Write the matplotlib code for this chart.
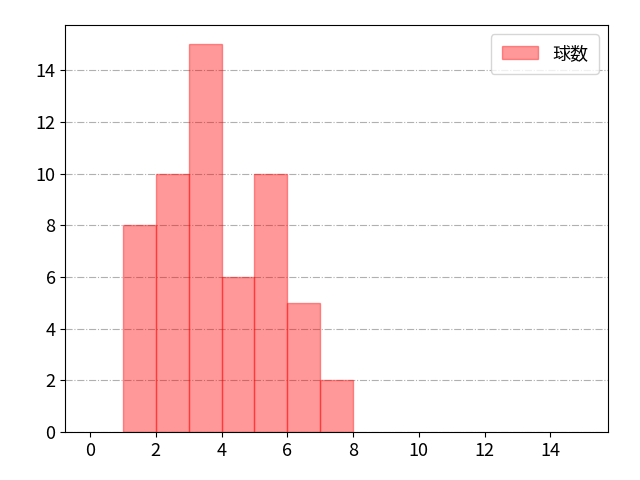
import matplotlib
matplotlib.use("Agg")
import matplotlib.pyplot as plt

plt.rcParams['font.family'] = ['Noto Sans CJK JP', 'DejaVu Sans']

bin_left = [1, 2, 3, 4, 5, 6, 7]
counts = [8, 10, 15, 6, 10, 5, 2]

fig, ax = plt.subplots(figsize=(6.4, 4.8), dpi=100)
ax.bar(bin_left, counts, width=1, align="edge", color="red", alpha=0.4,
       edgecolor="red", linewidth=1, label="球数")
ax.set_xlim(-0.75, 15.75)
ax.set_ylim(0, 15.75)
ax.set_xticks(range(0, 15, 2))
ax.set_yticks(range(0, 15, 2))
ax.yaxis.grid(True, linestyle="-.", color="#b0b0b0")
ax.set_axisbelow(True)
ax.tick_params(labelsize=13)
ax.legend(fontsize=13, loc="upper right", borderpad=0.6)
fig.subplots_adjust(left=0.102, right=0.95, top=0.948, bottom=0.1)
fig.savefig("out.png")
